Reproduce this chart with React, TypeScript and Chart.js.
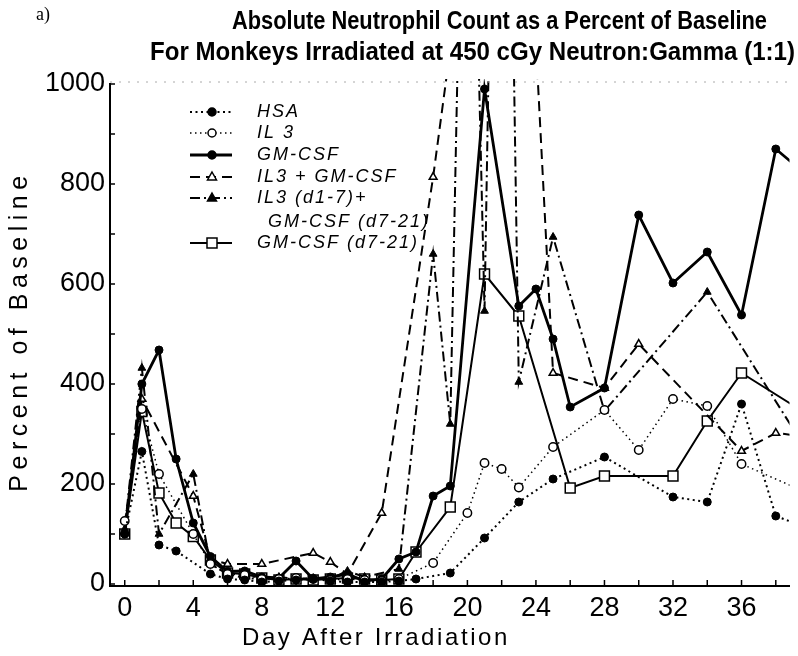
import React, { useEffect, useRef } from 'react';
import { Chart, registerables } from 'chart.js';

Chart.register(...registerables);

// ---------------- data ----------------
const titleLines = [
  'Absolute Neutrophil Count as a Percent of Baseline',
  'For Monkeys Irradiated at 450 cGy Neutron:Gamma (1:1)',
];
const panelLabel = 'a)';
const xAxisTitle = 'Day After Irradiation';
const yAxisTitle = 'Percent of Baseline';

const xTickValues = [0, 4, 8, 12, 16, 20, 24, 28, 32, 36];
const yTickValues = [0, 200, 400, 600, 800, 1000];

const hsaDays = [0, 1, 2, 3, 5, 6, 7, 8, 9, 10, 11, 12, 13, 14, 15, 16, 17, 19, 21, 23, 25, 28, 32, 34, 36, 38, 40];
const hsaValues = [100, 265, 78, 66, 20, 10, 8, 4, 6, 8, 10, 6, 4, 4, 4, 6, 10, 22, 92, 164, 210, 254, 174, 164, 360, 136, 110];

const il3Days = [0, 1, 2, 4, 5, 6, 7, 8, 9, 10, 11, 12, 13, 14, 15, 16, 18, 20, 21, 22, 23, 25, 28, 30, 32, 34, 36, 40];
const il3Values = [126, 350, 220, 100, 40, 20, 18, 10, 10, 12, 10, 8, 10, 8, 6, 10, 42, 142, 242, 230, 193, 274, 348, 268, 370, 356, 240, 180];

const gmDays = [0, 1, 2, 3, 4, 5, 6, 7, 8, 9, 10, 11, 12, 13, 14, 15, 16, 17, 18, 19, 21, 23, 24, 25, 26, 28, 30, 32, 34, 36, 38, 40];
const gmValues = [100, 400, 468, 250, 122, 55, 25, 26, 14, 12, 46, 10, 14, 20, 6, 10, 50, 64, 176, 196, 990, 556, 590, 490, 354, 392, 738, 602, 664, 538, 870, 812];

const il3gmDays = [0, 1, 4, 5, 6, 8, 11, 12, 13, 15, 18, 19, 20, 21, 22, 23, 24, 25, 28, 30, 36, 38, 40];
const il3gmValues = [105, 370, 176, 50, 40, 40, 62, 44, 20, 142, 814, 1070, 1500, 1600, 1500, 1300, 1080, 422, 392, 480, 266, 302, 294];

const seqDays = [0, 1, 2, 4, 5, 6, 7, 8, 9, 10, 11, 12, 13, 14, 16, 18, 19, 20, 21, 22, 23, 25, 28, 34, 40];
const seqValues = [110, 432, 100, 220, 40, 20, 12, 10, 14, 10, 12, 10, 26, 14, 30, 660, 320, 2000, 546, 2600, 404, 694, 346, 584, 256];

const gmLateDays = [0, 1, 2, 3, 4, 5, 6, 7, 8, 9, 10, 11, 12, 13, 14, 15, 16, 17, 19, 21, 23, 26, 28, 32, 34, 36, 40];
const gmLateValues = [100, 345, 182, 122, 95, 48, 22, 20, 12, 8, 10, 8, 10, 12, 10, 8, 10, 64, 154, 620, 536, 192, 216, 216, 326, 422, 336];

const seriesLabels = ['HSA', 'IL 3', 'GM-CSF', 'IL3 + GM-CSF', 'IL3 (d1-7)+|GM-CSF (d7-21)', 'GM-CSF (d7-21)'];

// ---------------- styles ----------------
type Marker = 'fcircle' | 'ocircle' | 'otri' | 'ftri' | 'osq';
const styles: { dash: number[]; width: number; marker: Marker }[] = [
  { dash: [2, 3.5], width: 2, marker: 'fcircle' },
  { dash: [1.5, 3.5], width: 1.5, marker: 'ocircle' },
  { dash: [], width: 2.8, marker: 'fcircle' },
  { dash: [10, 6], width: 2, marker: 'otri' },
  { dash: [10, 4, 2, 4], width: 2, marker: 'ftri' },
  { dash: [], width: 2, marker: 'osq' },
];

const pts = (d: number[], v: number[]) => d.map((x, i) => ({ x, y: v[i] }));

const SANS = '"Liberation Sans", Arial, Helvetica, sans-serif';

function pointOpts(m: Marker) {
  switch (m) {
    case 'fcircle':
      return { pointStyle: 'circle', pointRadius: 4, pointBackgroundColor: '#000', pointBorderColor: '#000', pointBorderWidth: 1 };
    case 'ocircle':
      return { pointStyle: 'circle', pointRadius: 4.2, pointBackgroundColor: '#fff', pointBorderColor: '#000', pointBorderWidth: 1.5 };
    case 'otri':
      return { pointStyle: 'triangle', pointRadius: 4.5, pointBackgroundColor: '#fff', pointBorderColor: '#000', pointBorderWidth: 1.5 };
    case 'ftri':
      return { pointStyle: 'triangle', pointRadius: 4.5, pointBackgroundColor: '#000', pointBorderColor: '#000', pointBorderWidth: 1 };
    case 'osq':
      return { pointStyle: 'rect', pointRadius: 7, pointBackgroundColor: '#fff', pointBorderColor: '#000', pointBorderWidth: 1.5 };
  }
}

function drawMarker(ctx: CanvasRenderingContext2D, m: Marker, x: number, y: number) {
  ctx.save();
  ctx.setLineDash([]);
  ctx.lineWidth = 1.5;
  ctx.strokeStyle = '#000';
  ctx.fillStyle = m === 'fcircle' || m === 'ftri' ? '#000' : '#fff';
  ctx.beginPath();
  if (m === 'fcircle' || m === 'ocircle') {
    ctx.arc(x, y, 4, 0, Math.PI * 2);
  } else if (m === 'otri' || m === 'ftri') {
    ctx.moveTo(x, y - 5);
    ctx.lineTo(x + 4.5, y + 3);
    ctx.lineTo(x - 4.5, y + 3);
    ctx.closePath();
  } else {
    ctx.rect(x - 5, y - 5, 10, 10);
  }
  ctx.fill();
  ctx.stroke();
  ctx.restore();
}

const legendRows = [112, 133, 155, 177, 198, 243];

const decor = {
  id: 'decor',
  afterDraw(chart: any) {
    const ctx: CanvasRenderingContext2D = chart.ctx;
    const area = chart.chartArea;
    const xs = chart.scales.x;
    const ys = chart.scales.y;
    ctx.save();
    ctx.fillStyle = '#000';
    ctx.strokeStyle = '#000';

    // panel label
    ctx.font = '18px "Liberation Serif", "Times New Roman", serif';
    ctx.textAlign = 'left';
    ctx.textBaseline = 'alphabetic';
    ctx.fillText(panelLabel, 36, 20);

    // title (condensed bold)
    ctx.font = `bold 26px ${SANS}`;
    const tl: [string, number, number, number][] = [
      [titleLines[0], 232, 29, 535],
      [titleLines[1], 150, 60, 645],
    ];
    tl.forEach(([t, x, y, target]) => {
      const w = ctx.measureText(t).width;
      ctx.save();
      ctx.translate(x, y);
      ctx.scale(target / w, 1);
      ctx.fillText(t, 0, 0);
      ctx.restore();
    });

    // axis titles
    (ctx as any).letterSpacing = '2.6px';
    ctx.font = `24px ${SANS}`;
    ctx.textAlign = 'center';
    ctx.fillText(xAxisTitle, 376, 645);
    ctx.save();
    ctx.translate(27, 331);
    ctx.rotate(-Math.PI / 2);
    ctx.font = `25px ${SANS}`;
    (ctx as any).letterSpacing = '5.5px';
    ctx.fillText(yAxisTitle, 0, 0);
    ctx.restore();
    (ctx as any).letterSpacing = '0px';

    // inner tick marks
    ctx.lineWidth = 1.5;
    ctx.setLineDash([]);
    for (let d = 0; d <= 38; d += 2) {
      const px = xs.getPixelForValue(d);
      ctx.beginPath();
      ctx.moveTo(px, area.bottom);
      ctx.lineTo(px, area.bottom - 6);
      ctx.stroke();
    }
    for (let v = 0; v <= 1000; v += 100) {
      const py = ys.getPixelForValue(v);
      ctx.beginPath();
      ctx.moveTo(area.left, py);
      ctx.lineTo(area.left + 5, py);
      ctx.stroke();
    }

    // faint top border
    ctx.strokeStyle = '#aaa';
    ctx.lineWidth = 1;
    ctx.setLineDash([2, 7]);
    ctx.beginPath();
    ctx.moveTo(area.left, area.top - 2);
    ctx.lineTo(area.right, area.top - 2);
    ctx.stroke();
    ctx.strokeStyle = '#000';

    // legend
    ctx.textAlign = 'left';
    ctx.textBaseline = 'middle';
    ctx.font = `italic 18px ${SANS}`;
    (ctx as any).letterSpacing = '2px';
    seriesLabels.forEach((lab, i) => {
      const y = legendRows[i];
      const st = styles[i];
      ctx.save();
      ctx.lineWidth = st.width;
      ctx.setLineDash(st.dash);
      ctx.beginPath();
      ctx.moveTo(190, y);
      ctx.lineTo(232, y);
      ctx.stroke();
      ctx.restore();
      drawMarker(ctx, st.marker, 212, y);
      const parts = lab.split('|');
      ctx.fillText(parts[0], 257, y);
      if (parts[1]) ctx.fillText(parts[1], 268, y + 24);
    });
    (ctx as any).letterSpacing = '0px';
    ctx.restore();
  },
};

export default function App() {
  const ref = useRef<HTMLCanvasElement | null>(null);

  useEffect(() => {
    const canvas = ref.current;
    if (!canvas) return;
    const series = [
      pts(hsaDays, hsaValues),
      pts(il3Days, il3Values),
      pts(gmDays, gmValues),
      pts(il3gmDays, il3gmValues),
      pts(seqDays, seqValues),
      pts(gmLateDays, gmLateValues),
    ];
    const datasets = series.map((data, i) => ({
      label: seriesLabels[i].replace('|', ' '),
      data,
      borderColor: '#000',
      borderWidth: styles[i].width,
      borderDash: styles[i].dash,
      fill: false,
      tension: 0,
      clip: { left: 10, top: 5, right: 0, bottom: 10 },
      ...pointOpts(styles[i].marker),
    }));

    const chart = new Chart(canvas, {
      type: 'line',
      data: { datasets } as any,
      options: {
        animation: false,
        responsive: false,
        events: [],
        layout: { padding: { top: 84, left: 0, right: 0, bottom: 0 } },
        plugins: {
          legend: { display: false },
          title: { display: false },
          tooltip: { enabled: false },
        },
        scales: {
          x: {
            type: 'linear',
            min: -0.86,
            max: 38.8,
            afterBuildTicks: (s: any) => {
              s.ticks = xTickValues.map((v) => ({ value: v }));
            },
            afterFit: (s: any) => {
              s.height = 70;
            },
            grid: { display: false, drawTicks: false },
            border: { display: true, color: '#000', width: 2 },
            ticks: {
              font: { family: SANS, size: 27 },
              color: '#000',
              padding: 6,
              maxRotation: 0,
              autoSkip: false,
              callback: (v: any) => String(v),
            },
          },
          y: {
            type: 'linear',
            min: -4,
            max: 1000,
            afterBuildTicks: (s: any) => {
              s.ticks = yTickValues.map((v) => ({ value: v }));
            },
            afterFit: (s: any) => {
              s.width = 110;
            },
            grid: { display: false, drawTicks: false },
            border: { display: true, color: '#000', width: 2 },
            ticks: {
              font: { family: SANS, size: 27 },
              color: '#000',
              padding: 5,
              autoSkip: false,
              callback: (v: any) => String(v),
            },
          },
        },
      } as any,
      plugins: [decor],
    });
    return () => chart.destroy();
  }, []);

  return (
    <div style={{ position: 'absolute', left: 0, top: 0, width: 798, height: 656, background: '#fff' }}>
      <canvas ref={ref} width={798} height={656} style={{ display: 'block' }} />
    </div>
  );
}
